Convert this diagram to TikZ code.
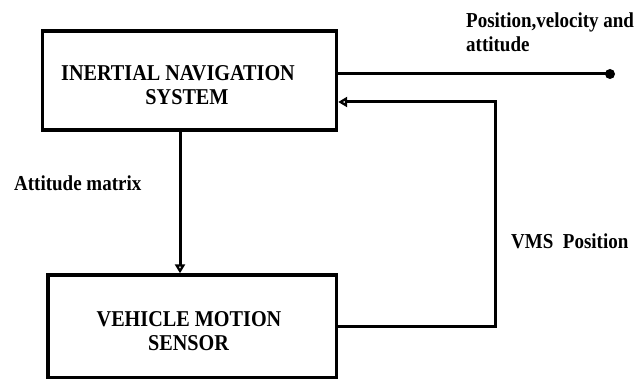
\documentclass[tikz,border=0pt]{standalone}
\usepackage{fontspec}
\setmainfont{Liberation Serif}
\usetikzlibrary{arrows.meta}
\newcommand\talltext[1]{\scalebox{1}[1.12]{#1}}
\begin{document}
\begin{tikzpicture}[x=1pt,y=-1pt,
  blk/.style={draw,line width=3.4pt,rectangle,inner sep=0pt},
  txt/.style={font=\fontsize{19}{23}\selectfont\bfseries,inner sep=0pt},
  btxt/.style={font=\fontsize{20.2}{24}\selectfont\bfseries,inner sep=0pt},
  conn/.style={line width=3pt},
  arr/.style={line width=3pt,-{Triangle[open,length=9pt,width=10pt,line width=3pt]}}]
\useasboundingbox (0,0) rectangle (641,379);
\node[blk,minimum width=294pt,minimum height=99pt] (ins) at (189.5,80.4) {};
\node[blk,minimum width=288.5pt,minimum height=103pt] (vms) at (192.2,326.5) {};
\node[btxt,anchor=base] (t1) at (178,80.7) {\talltext{INERTIAL NAVIGATION}};
\node[btxt,anchor=base] (t2) at (187,104.3) {\talltext{SYSTEM}};
\node[btxt,anchor=base] (t3) at (189,326.7) {\talltext{VEHICLE MOTION}};
\node[btxt,anchor=base] (t4) at (188.5,350.7) {\talltext{SENSOR}};
\node[txt,anchor=base west] (l1) at (466,27.5) {\talltext{Position,velocity and}};
\node[txt,anchor=base west] (l2) at (466,51.7) {\talltext{attitude}};
\node[txt,anchor=base west] (l3) at (14,190.7) {\talltext{Attitude matrix}};
\node[txt,anchor=base west] (l4) at (511,249) {\talltext{VMS\ \ Position}};
\coordinate (out) at (610,74);
\coordinate (ax) at (180,0);
\coordinate (fb) at (495,102);
\draw[conn] (ins.east |- out) -- (out);
\fill (out) circle (5pt);
\draw[arr] (ax |- ins.south) -- (ax |- vms.north);
\draw[arr] (vms.east) -| (fb) -- (ins.east |- fb);
\end{tikzpicture}
\end{document}
